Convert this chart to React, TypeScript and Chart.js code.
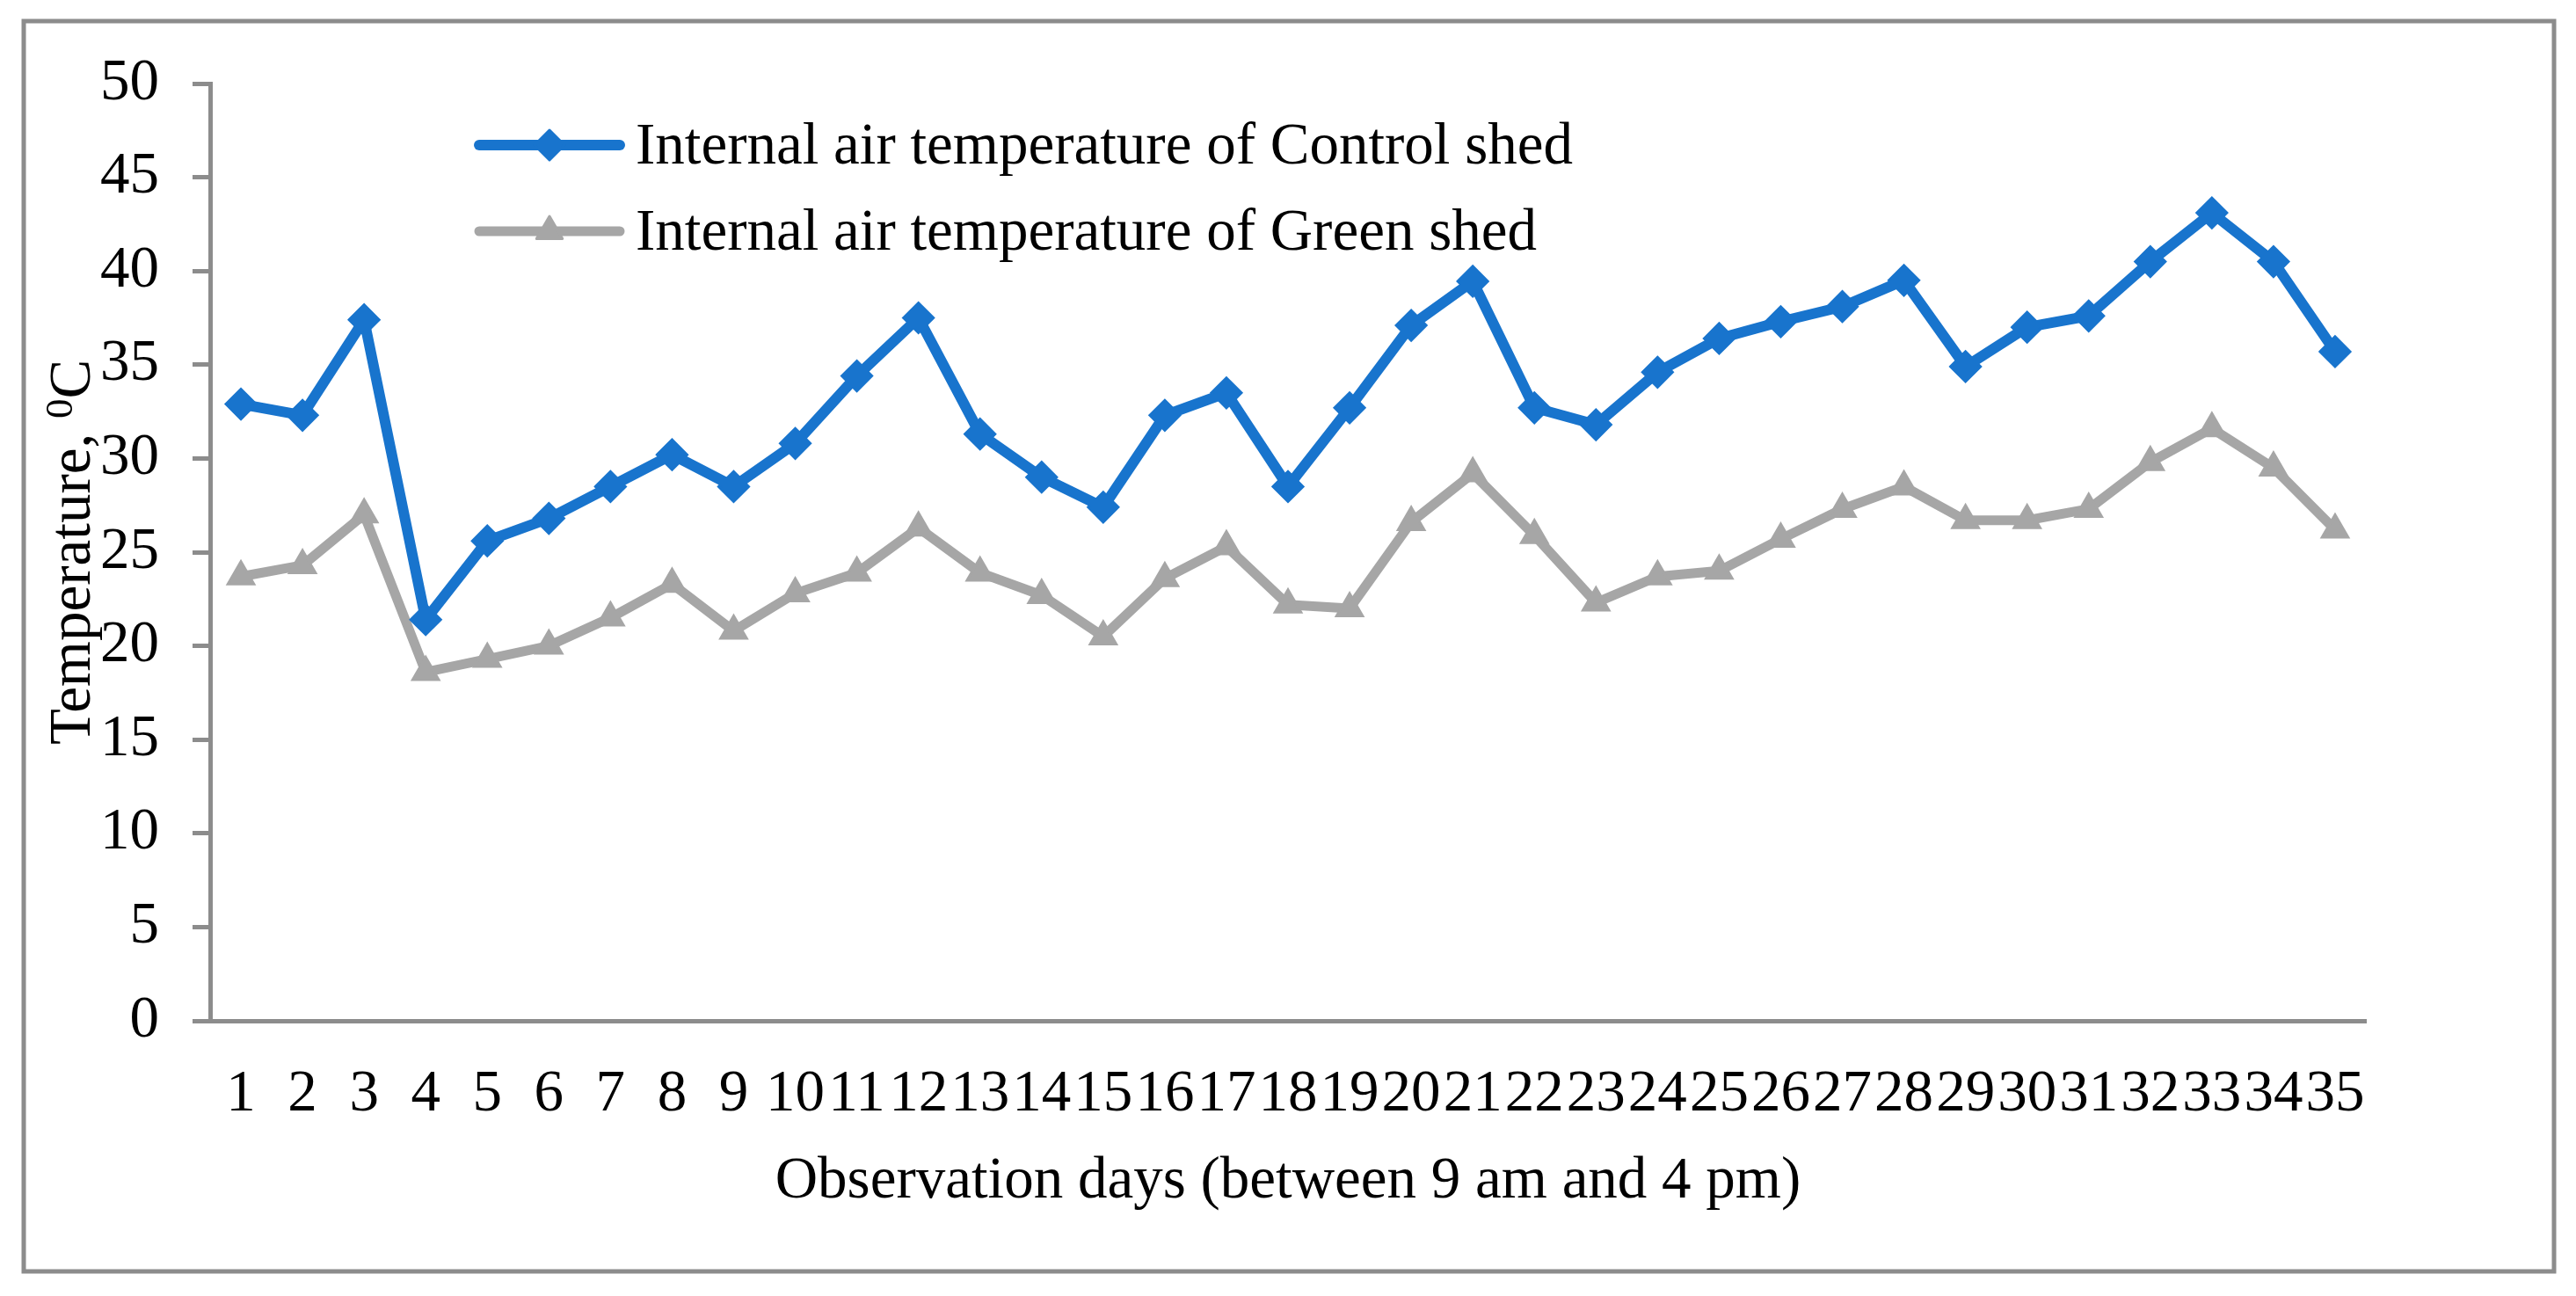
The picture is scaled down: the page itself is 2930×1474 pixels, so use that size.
import React, { useEffect, useRef } from 'react';
import { Chart, registerables } from 'chart.js';

Chart.register(...registerables);

const days = ['1', '2', '3', '4', '5', '6', '7', '8', '9', '10', '11', '12', '13', '14', '15', '16', '17', '18', '19', '20', '21', '22', '23', '24', '25', '26', '27', '28', '29', '30', '31', '32', '33', '34', '35'];

const controlShed = [32.9, 32.3, 37.4, 21.4, 25.6, 26.8, 28.5, 30.2, 28.5, 30.8, 34.4, 37.5, 31.3, 29.0, 27.4, 32.3, 33.5, 28.5, 32.7, 37.1, 39.45, 32.7, 31.8, 34.6, 36.4, 37.3, 38.1, 39.5, 34.9, 37.0, 37.6, 40.5, 43.1, 40.5, 35.7];

const greenShed = [23.7, 24.3, 27.0, 18.6, 19.3, 20.0, 21.5, 23.3, 20.8, 22.8, 23.9, 26.3, 23.9, 22.7, 20.5, 23.6, 25.3, 22.2, 22.0, 26.6, 29.2, 25.9, 22.3, 23.7, 24.0, 25.7, 27.3, 28.5, 26.7, 26.7, 27.3, 29.8, 31.6, 29.5, 26.2];

const seriesLabels = ['Internal air temperature of Control shed', 'Internal air temperature of Green shed'];
const yMin = 0;
const yMax = 50;
const yStep = 5;

const xTitle = 'Observation days (between 9 am and 4 pm)';
const yTitleMain = 'Temperature, ';
const yTitleSup = '0';
const yTitleEnd = 'C';

const FONT = '"Liberation Serif", "Times New Roman", serif';
const FONT_SIZE = 67;
const AXIS_GRAY = '#8c8c8c';
const BLUE = '#1874cd';
const GRAY = '#a6a6a6';

function drawMarker(ctx: CanvasRenderingContext2D, style: string, x: number, y: number, r: number) {
  ctx.beginPath();
  if (style === 'rectRot') {
    ctx.moveTo(x, y - r);
    ctx.lineTo(x + r, y);
    ctx.lineTo(x, y + r);
    ctx.lineTo(x - r, y);
  } else {
    const a = (2 * Math.PI) / 3;
    ctx.moveTo(x, y - r);
    ctx.lineTo(x + Math.sin(a) * r, y - Math.cos(a) * r);
    ctx.lineTo(x + Math.sin(2 * a) * r, y - Math.cos(2 * a) * r);
  }
  ctx.closePath();
  ctx.fill();
  ctx.stroke();
}

const decorPlugin = {
  id: 'decor',
  beforeDraw(chart: any) {
    const ctx = chart.ctx as CanvasRenderingContext2D;
    ctx.save();
    ctx.fillStyle = '#ffffff';
    ctx.fillRect(0, 0, chart.width, chart.height);
    ctx.strokeStyle = AXIS_GRAY;
    ctx.lineWidth = 5;
    ctx.strokeRect(27, 24, 2878, 1422);
    ctx.restore();
  },
  afterDraw(chart: any) {
    const ctx = chart.ctx as CanvasRenderingContext2D;
    const area = chart.chartArea;
    ctx.save();
    // legend
    const rows = [area.top + 70, area.top + 168];
    chart.data.datasets.forEach((ds: any, i: number) => {
      const y = rows[i];
      const x0 = area.left + 306;
      const x1 = area.left + 466;
      ctx.strokeStyle = ds.borderColor;
      ctx.lineWidth = ds.borderWidth;
      ctx.lineCap = 'round';
      ctx.beginPath();
      ctx.moveTo(x0, y);
      ctx.lineTo(x1, y);
      ctx.stroke();
      ctx.lineCap = 'butt';
      ctx.lineJoin = 'round';
      ctx.fillStyle = ds.pointBackgroundColor;
      ctx.strokeStyle = ds.pointBorderColor;
      ctx.lineWidth = ds.pointBorderWidth;
      drawMarker(ctx, ds.pointStyle, (x0 + x1) / 2, y, ds.pointRadius);
      ctx.fillStyle = '#000000';
      ctx.font = `${FONT_SIZE}px ${FONT}`;
      ctx.textAlign = 'left';
      ctx.textBaseline = 'alphabetic';
      ctx.fillText(ds.label, area.left + 484, y + 21);
    });

    // x title
    ctx.fillStyle = '#000000';
    ctx.font = `${FONT_SIZE}px ${FONT}`;
    ctx.textAlign = 'center';
    ctx.textBaseline = 'alphabetic';
    ctx.fillText(xTitle, (area.left + area.right) / 2, 1362);

    // y title (rotated, with superscript)
    ctx.translate(102, (area.top + area.bottom) / 2);
    ctx.rotate(-Math.PI / 2);
    ctx.textAlign = 'left';
    ctx.font = `${FONT_SIZE}px ${FONT}`;
    const w1 = ctx.measureText(yTitleMain).width;
    const w3 = ctx.measureText(yTitleEnd).width;
    ctx.font = `45px ${FONT}`;
    const w2 = ctx.measureText(yTitleSup).width;
    const total = w1 + w2 + w3;
    let sx = -total / 2;
    ctx.font = `${FONT_SIZE}px ${FONT}`;
    ctx.fillText(yTitleMain, sx, 0);
    sx += w1;
    ctx.font = `45px ${FONT}`;
    ctx.fillText(yTitleSup, sx, -20);
    sx += w2;
    ctx.font = `${FONT_SIZE}px ${FONT}`;
    ctx.fillText(yTitleEnd, sx, 0);
    ctx.restore();
  },
};

export default function App() {
  const canvasRef = useRef<HTMLCanvasElement | null>(null);

  useEffect(() => {
    if (!canvasRef.current) return;
    const chart = new Chart(canvasRef.current, {
      type: 'line',
      data: {
        labels: days,
        datasets: [
          {
            label: seriesLabels[0],
            data: controlShed,
            borderColor: BLUE,
            backgroundColor: BLUE,
            borderWidth: 12,
            pointStyle: 'rectRot',
            pointRadius: 17,
            pointBackgroundColor: BLUE,
            pointBorderColor: BLUE,
            pointBorderWidth: 3,
            borderJoinStyle: 'round',
            tension: 0,
            order: 1,
          },
          {
            label: seriesLabels[1],
            data: greenShed,
            borderColor: GRAY,
            backgroundColor: GRAY,
            borderWidth: 11,
            pointStyle: 'triangle',
            pointRadius: 17,
            pointBackgroundColor: GRAY,
            pointBorderColor: GRAY,
            pointBorderWidth: 3,
            borderJoinStyle: 'round',
            tension: 0,
            order: 2,
          },
        ],
      },
      options: {
        animation: false,
        responsive: true,
        maintainAspectRatio: false,
        layout: { padding: { left: 0, top: 95, right: 239, bottom: 0 } },
        plugins: {
          legend: { display: false },
          tooltip: { enabled: false },
          title: { display: false },
        },
        scales: {
          x: {
            type: 'category',
            offset: true,
            grid: { display: false },
            border: { display: true, color: AXIS_GRAY, width: 5 },
            ticks: {
              color: '#000000',
              font: { family: FONT, size: FONT_SIZE },
              padding: 36,
              maxRotation: 0,
              minRotation: 0,
              autoSkip: false,
            },
            afterFit: (scale: any) => {
              scale.height = 313;
            },
          },
          y: {
            min: yMin,
            max: yMax,
            grid: {
              drawOnChartArea: false,
              drawTicks: true,
              tickLength: 20,
              color: AXIS_GRAY,
              lineWidth: 5,
            },
            border: { display: true, color: AXIS_GRAY, width: 5 },
            ticks: {
              stepSize: yStep,
              color: '#000000',
              font: { family: FONT, size: FONT_SIZE },
              padding: 38,
            },
            afterFit: (scale: any) => {
              scale.width = 239;
            },
          },
        },
      },
      plugins: [decorPlugin],
    });
    return () => chart.destroy();
  }, []);

  return (
    <div style={{ position: 'absolute', left: 0, top: 0, width: 2930, height: 1474, background: '#ffffff' }}>
      <canvas ref={canvasRef} />
    </div>
  );
}
